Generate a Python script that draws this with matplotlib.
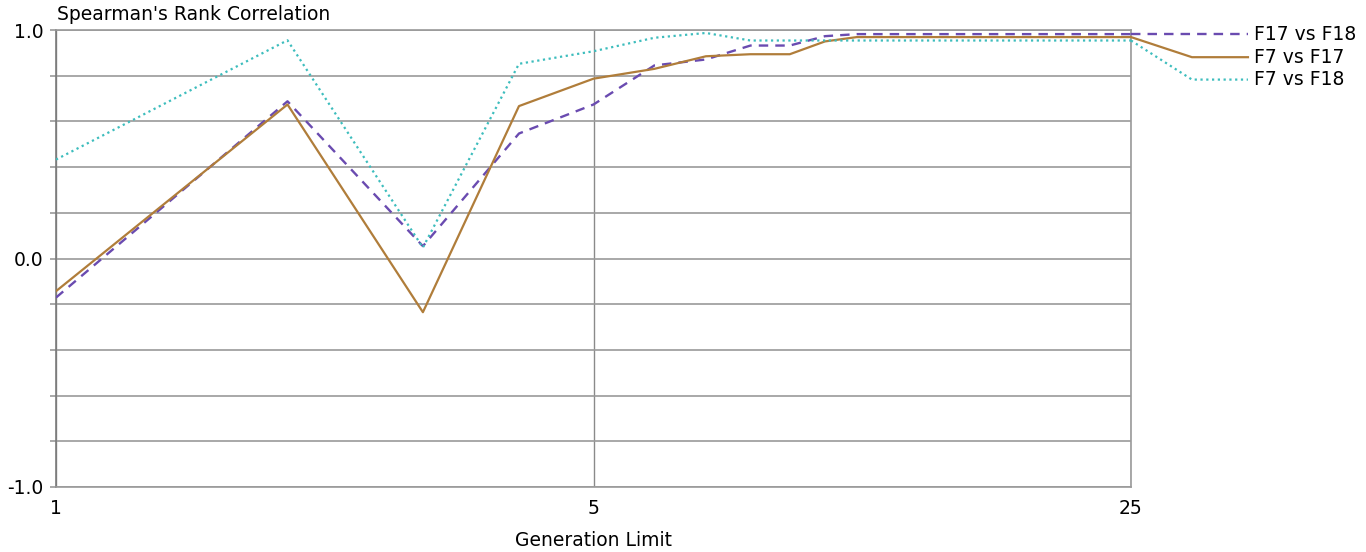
import numpy as np
import matplotlib
matplotlib.use('Agg')
import matplotlib.pyplot as plt
from matplotlib.ticker import FixedLocator, NullFormatter, NullLocator


# Datos

generations = list(range(1, 26))

f17_vs_f18 = [-0.171, 0.688, 0.054, 0.547, 0.674, 0.845, 0.871, 0.932, 0.932, 0.973,
              0.982, 0.982, 0.982, 0.982, 0.982, 0.982, 0.982, 0.982, 0.982, 0.982,
              0.982, 0.982, 0.982, 0.982, 0.982]

f7_vs_f17 = [-0.143, 0.674, -0.235, 0.667, 0.787, 0.830, 0.885, 0.894, 0.894, 0.950,
             0.969, 0.969, 0.969, 0.969, 0.969, 0.969, 0.969, 0.969, 0.969, 0.969,
             0.969, 0.969, 0.969, 0.969, 0.969]

f7_vs_f18 = [0.433, 0.955, 0.048, 0.852, 0.907, 0.966, 0.987, 0.954, 0.954, 0.954,
             0.954, 0.954, 0.954, 0.954, 0.954, 0.954, 0.954, 0.954, 0.954, 0.954,
             0.954, 0.954, 0.954, 0.954, 0.954]

series_names = ['F17 vs F18', 'F7 vs F17', 'F7 vs F18']

label_y = [0.982, 0.881, 0.783]

x_ticks = [1, 5, 25]
y_ticks = [-1.0, 0.0, 1.0]


if __name__ == "__main__":

    plt.rcParams['font.family'] = ['DejaVu Sans']

    fs = 13.5

    fig = plt.figure(figsize=(13.66, 5.52), dpi=100)

    ax = fig.add_axes([56/1366, 1 - 487/552, (1131 - 56)/1366, (487 - 30)/552])

    styles = [
        dict(color='#6a4bb0', linestyle=(0, (4, 3)), linewidth=1.7),
        dict(color='#b07d3a', linestyle='-', linewidth=1.6),
        dict(color='#3dbdbd', linestyle=(0, (1, 1.6)), linewidth=1.6),
    ]

    all_series = [f17_vs_f18, f7_vs_f17, f7_vs_f18]

    # Lineas de datos

    for values, st in zip(all_series, styles):
        ax.plot(generations, values, zorder=3, **st)

    # Etiquetas directas a la derecha del area de graficado

    trans = ax.get_yaxis_transform()
    for values, name, ly, st in zip(all_series, series_names, label_y, styles):
        ax.plot([1.0, 1.0567, 1.1088], [values[-1], ly, ly], transform=trans,
                clip_on=False, zorder=3, **st)
        ax.text(1.1144, ly, name, transform=trans, va='center', ha='left',
                fontsize=fs, color='black')

    # Ejes

    ax.set_xscale('log', base=5)
    ax.set_xlim(1, 25)
    ax.set_ylim(-1.0, 1.0)

    ax.xaxis.set_major_locator(FixedLocator(x_ticks))
    ax.xaxis.set_minor_locator(NullLocator())
    ax.set_xticklabels([str(t) for t in x_ticks], fontsize=fs)
    ax.tick_params(axis='x', which='both', length=0, pad=9)

    ax.yaxis.set_major_locator(FixedLocator(y_ticks))
    ax.yaxis.set_minor_locator(FixedLocator(np.arange(-0.8, 0.81, 0.2)))
    ax.yaxis.set_minor_formatter(NullFormatter())
    ax.set_yticklabels(['%.1f' % t for t in y_ticks], fontsize=fs)
    ax.tick_params(axis='y', which='both', length=4, width=1.2, color='#9a9a9a', pad=5)

    ax.grid(True, axis='y', which='both', color='#9a9a9a', linewidth=1.2)
    ax.grid(True, axis='x', which='major', color='#8a8a8a', linewidth=1.0)
    ax.set_axisbelow(True)

    for side in ['top', 'right', 'bottom']:
        ax.spines[side].set_color('#9a9a9a')
        ax.spines[side].set_linewidth(1.2)
    ax.spines['left'].set_color('#7a7a7a')
    ax.spines['left'].set_linewidth(1.2)

    ax.set_xlabel('Generation Limit', fontsize=fs, labelpad=9)

    fig.text(57/1366, 1 - 14/552, "Spearman's Rank Correlation", fontsize=fs,
             ha='left', va='center')

    # Guardado

    fig.savefig('out.png', dpi=100)
